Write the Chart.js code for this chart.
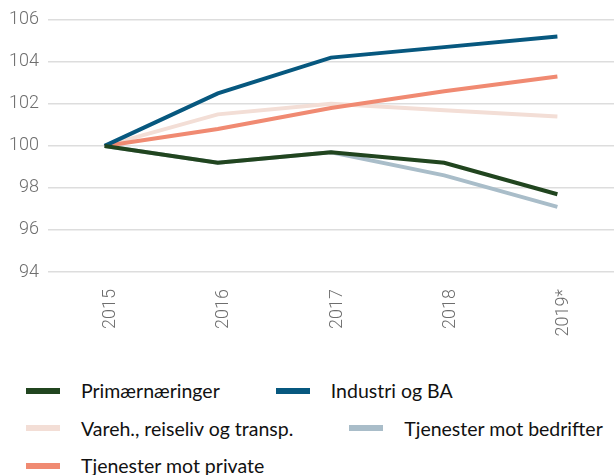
<!DOCTYPE html>
<html>
<head>
<meta charset="utf-8">
<script src="https://cdn.jsdelivr.net/npm/chart.js@4/dist/chart.umd.min.js"></script>
<style>
  html, body { margin: 0; padding: 0; background: #fff; overflow: hidden; }
  body { width: 614px; height: 475px; position: relative; }
  #wrap { position: absolute; left: 0; top: 0; width: 614px; height: 350px; }
  #legend {
    position: absolute; left: 26px; top: 372px; width: 640px;
    display: flex; flex-wrap: wrap; column-gap: 56px;
    font-family: Lato, 'Noto Sans', sans-serif; font-size: 19.5px; color: #111;
  }
  .item { display: flex; align-items: center; height: 37.5px; white-space: nowrap; }
  .swatch { width: 34px; height: 6px; margin-right: 21px; }
</style>
</head>
<body>
<div id="wrap"><canvas id="chart"></canvas></div>
<div id="legend"></div>
<script>
// kategorier og serier (indeks, 2015 = 100)
const years = ['2015', '2016', '2017', '2018', '2019*'];
const seriesNames = [
  'Primærnæringer',
  'Industri og BA',
  'Vareh., reiseliv og transp.',
  'Tjenester mot bedrifter',
  'Tjenester mot private'
];
const primaer = [100, 99.2, 99.7, 99.2, 97.7];
const industri = [100, 102.5, 104.2, 104.7, 105.2];
const vareh = [100, 101.5, 102.0, 101.7, 101.4];
const tjenBedrifter = [100, 99.2, 99.7, 98.6, 97.1];
const tjenPrivate = [100, 100.8, 101.8, 102.6, 103.3];
const seriesColors = ['#21451f', '#07587f', '#f3ded6', '#a9bdc9', '#f08a72'];
const drawOrder = [0, 1, 3, 4, 2];
const yMin = 94;
const yMax = 106;
const yStep = 2;

const seriesValues = [primaer, industri, vareh, tjenBedrifter, tjenPrivate];
const tickFont = { family: "Roboto, 'DejaVu Sans Condensed', sans-serif", size: 18, weight: '300' };

const datasets = seriesNames.map((name, i) => ({
  label: name,
  data: seriesValues[i],
  borderColor: seriesColors[i],
  backgroundColor: seriesColors[i],
  borderWidth: 4,
  pointRadius: 0,
  tension: 0,
  order: drawOrder[i]
}));

new Chart(document.getElementById('chart'), {
  type: 'line',
  data: { labels: years, datasets },
  options: {
    responsive: true,
    maintainAspectRatio: false,
    animation: false,
    layout: { padding: { top: 18, right: 0, left: 0, bottom: 0 } },
    plugins: { legend: { display: false }, tooltip: { enabled: false } },
    scales: {
      x: {
        offset: true,
        grid: { display: false, drawTicks: false },
        border: { display: false },
        ticks: {
          color: '#6e6e6e',
          font: tickFont,
          minRotation: 90,
          maxRotation: 90,
          padding: 17,
          labelOffset: 6
        },
        afterFit(scale) { scale.height = 78; }
      },
      y: {
        min: yMin,
        max: yMax,
        grid: { color: '#dddddd', lineWidth: 1.5, drawTicks: false },
        border: { display: false },
        ticks: { stepSize: yStep, color: '#6e6e6e', font: tickFont, padding: 9 },
        afterFit(scale) { scale.width = 48; }
      }
    }
  }
});

// legende
const legendEl = document.getElementById('legend');
seriesNames.forEach((name, i) => {
  const item = document.createElement('div');
  item.className = 'item';
  const sw = document.createElement('span');
  sw.className = 'swatch';
  sw.style.background = seriesColors[i];
  const txt = document.createElement('span');
  txt.textContent = name;
  item.appendChild(sw);
  item.appendChild(txt);
  legendEl.appendChild(item);
});
</script>
</body>
</html>
